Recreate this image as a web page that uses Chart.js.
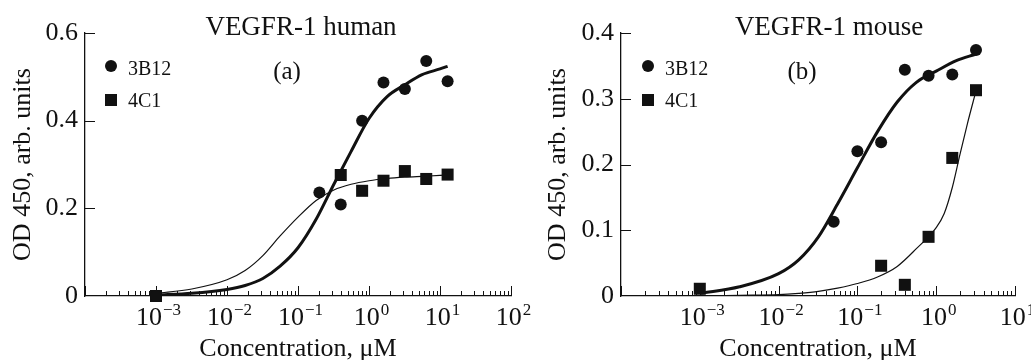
<!DOCTYPE html>
<html lang="en">
<head>
<meta charset="UTF-8">
<title>VEGFR-1 binding, 3B12 and 4C1</title>
<script src="https://cdn.jsdelivr.net/npm/chart.js"></script>
<style>
  html, body { margin: 0; padding: 0; background: #fff; }
  .panel { position: absolute; top: 0; height: 360px; }
  #left { left: 0; width: 545px; }
  #right { left: 515px; width: 516px; }
</style>
</head>
<body>
<div class="panel" id="left"><canvas id="chartA" width="545" height="360"></canvas></div>
<div class="panel" id="right"><canvas id="chartB" width="516" height="360"></canvas></div>

<script>
// (a) VEGFR-1 human -- measured points
const humanConc3B12 = [0.001, 0.2, 0.4, 0.8, 1.6, 3.2, 6.4, 12.8];
const humanOD3B12 = [0, 0.236, 0.209, 0.40, 0.487, 0.472, 0.536, 0.49];
const humanConc4C1 = [0.001, 0.4, 0.8, 1.6, 3.2, 6.4, 12.8];
const humanOD4C1 = [0, 0.276, 0.24, 0.263, 0.285, 0.267, 0.277];
// (a) fitted curves
const humanFitConc = [0.001, 0.0032, 0.01, 0.018, 0.032, 0.056, 0.1, 0.18, 0.32, 0.56, 1, 1.8, 3.2, 5.6, 10, 12.8];
const humanFit3B12 = [0.002, 0.006, 0.015, 0.024, 0.04, 0.068, 0.11, 0.175, 0.255, 0.33, 0.405, 0.455, 0.482, 0.505, 0.518, 0.524];
const humanFit4C1 = [0.006, 0.016, 0.037, 0.058, 0.092, 0.137, 0.18, 0.218, 0.242, 0.255, 0.263, 0.268, 0.271, 0.273, 0.275, 0.276];

// (b) VEGFR-1 mouse -- measured points
const mouseConc3B12 = [0.05, 0.1, 0.2, 0.4, 0.8, 1.6, 3.2];
const mouseOD3B12 = [0.113, 0.22, 0.234, 0.344, 0.335, 0.337, 0.374];
const mouseConc4C1 = [0.001, 0.2, 0.4, 0.8, 1.6, 3.2];
const mouseOD4C1 = [0.011, 0.046, 0.017, 0.09, 0.21, 0.313];
// (b) fitted curves
const mouseFitConc3B12 = [0.001, 0.0032, 0.01, 0.018, 0.032, 0.056, 0.1, 0.18, 0.32, 0.56, 1, 1.8, 3.2];
const mouseFit3B12 = [0.004, 0.014, 0.034, 0.055, 0.09, 0.14, 0.195, 0.25, 0.295, 0.325, 0.342, 0.358, 0.368];
const mouseFitConc4C1 = [0.001, 0.0032, 0.01, 0.018, 0.032, 0.056, 0.1, 0.18, 0.32, 0.56, 1, 1.26, 1.6, 2, 2.5, 3.2];
const mouseFit4C1 = [0, 0.001, 0.002, 0.004, 0.007, 0.012, 0.019, 0.029, 0.045, 0.072, 0.104, 0.125, 0.165, 0.215, 0.263, 0.312];

const serif = "'Liberation Serif', 'Times New Roman', serif";
const ink = '#111';

function pts(xs, ys) {
  return xs.map((x, i) => ({ x: x, y: ys[i] }));
}

function pointSet(label, xs, ys, style) {
  return {
    label: label,
    data: pts(xs, ys),
    pointStyle: style,
    pointRadius: style === 'rect' ? 8.5 : 6,
    pointBackgroundColor: ink,
    pointBorderWidth: 0,
    showLine: false,
    clip: false
  };
}

function curveSet(label, xs, ys, width) {
  return {
    label: label,
    data: pts(xs, ys),
    showLine: true,
    pointRadius: 0,
    borderColor: ink,
    borderWidth: width,
    cubicInterpolationMode: 'monotone',
    fill: false
  };
}

// ticks pointing inwards, 10^n labels, panel title, letter and legend
const decorPlugin = {
  id: 'decor',
  afterDraw(chart, args, o) {
    const { ctx, chartArea: area, scales: { x, y } } = chart;
    ctx.save();
    ctx.strokeStyle = ink;
    ctx.fillStyle = ink;
    ctx.lineWidth = 1;

    const eMin = Math.round(Math.log10(x.min));
    const eMax = Math.round(Math.log10(x.max));
    for (let e = eMin; e <= eMax; e++) {
      for (let m = 1; m <= 9; m++) {
        if (e === eMax && m > 1) break;
        const px = Math.round(x.getPixelForValue(m * Math.pow(10, e))) + 0.5;
        ctx.beginPath();
        ctx.moveTo(px, area.bottom);
        ctx.lineTo(px, area.bottom - (m === 1 ? 10 : 5));
        ctx.stroke();
      }
    }
    y.ticks.forEach(t => {
      if (t.value === 0) return;
      const py = Math.round(y.getPixelForValue(t.value)) + 0.5;
      ctx.beginPath();
      ctx.moveTo(area.left, py);
      ctx.lineTo(area.left + 10, py);
      ctx.stroke();
    });

    // decade labels
    ctx.textBaseline = 'alphabetic';
    ctx.textAlign = 'left';
    for (let e = eMin + 1; e <= eMax; e++) {
      const sup = e < 0 ? '\u2212' + (-e) : String(e);
      ctx.font = '26px ' + serif;
      const wBase = ctx.measureText('10').width;
      ctx.font = '17px ' + serif;
      const wSup = ctx.measureText(sup).width;
      const cx = x.getPixelForValue(Math.pow(10, e));
      const x0 = cx - (wBase + wSup) / 2 + 2;
      ctx.font = '26px ' + serif;
      ctx.fillText('10', x0, 325);
      ctx.font = '17px ' + serif;
      ctx.fillText(sup, x0 + wBase + 1, 315);
    }

    // title and panel letter
    ctx.textAlign = 'center';
    ctx.font = '27px ' + serif;
    ctx.fillText(o.title, o.titleX, 35);
    ctx.font = '25px ' + serif;
    ctx.fillText(o.letter, o.letterX, 79);

    // legend
    ctx.beginPath();
    ctx.arc(o.legendX, 66, 6, 0, Math.PI * 2);
    ctx.fill();
    ctx.fillRect(o.legendX - 6, 94, 12, 12);
    ctx.textAlign = 'left';
    ctx.font = '20px ' + serif;
    ctx.fillText(chart.data.datasets[0].label, o.legendX + 17, 75);
    ctx.fillText(chart.data.datasets[1].label, o.legendX + 17, 107);
    ctx.restore();
  }
};

function makeChart(id, c) {
  return new Chart(document.getElementById(id), {
    type: 'scatter',
    data: { datasets: c.datasets },
    options: {
      responsive: false,
      animation: false,
      events: [],
      layout: { padding: c.padding },
      plugins: {
        legend: { display: false },
        tooltip: { enabled: false },
        decor: c.decor
      },
      scales: {
        x: {
          type: 'logarithmic',
          min: c.xMin,
          max: c.xMax,
          grid: { display: false, drawTicks: false },
          border: { display: true, color: ink, width: 1.3 },
          ticks: { display: false },
          title: {
            display: true,
            text: 'Concentration, \u03bcM',
            color: ink,
            font: { family: serif, size: 26 },
            padding: { top: 0, bottom: -5 }
          },
          afterFit: s => { s.height = 64; }
        },
        y: {
          min: 0,
          max: c.yMax,
          grid: { display: false, drawTicks: false },
          border: { display: true, color: ink, width: 1.3 },
          ticks: {
            stepSize: c.yStep,
            padding: 7,
            color: ink,
            font: { family: serif, size: 26 },
            callback: v => v === 0 ? '0' : v.toFixed(1)
          },
          title: {
            display: true,
            text: 'OD 450, arb. units',
            color: ink,
            font: { family: serif, size: 26 },
            padding: { top: c.yTitlePad, bottom: 0 }
          },
          afterFit: s => { s.width = c.yWidth; }
        }
      }
    },
    plugins: [decorPlugin]
  });
}

makeChart('chartA', {
  datasets: [
    pointSet('3B12', humanConc3B12, humanOD3B12, 'circle'),
    pointSet('4C1', humanConc4C1, humanOD4C1, 'rect'),
    curveSet('3B12 fit', humanFitConc, humanFit3B12, 3),
    curveSet('4C1 fit', humanFitConc, humanFit4C1, 1.2)
  ],
  padding: { left: 0, right: 34, top: 33, bottom: 0 },
  xMin: 1e-4, xMax: 1e2,
  yMax: 0.6, yStep: 0.2,
  yWidth: 85, yTitlePad: 8,
  decor: { title: 'VEGFR-1 human', titleX: 301, letter: '(a)', letterX: 287, legendX: 111 }
});

makeChart('chartB', {
  datasets: [
    pointSet('3B12', mouseConc3B12, mouseOD3B12, 'circle'),
    pointSet('4C1', mouseConc4C1, mouseOD4C1, 'rect'),
    curveSet('3B12 fit', mouseFitConc3B12, mouseFit3B12, 3),
    curveSet('4C1 fit', mouseFitConc4C1, mouseFit4C1, 1.2)
  ],
  padding: { left: 0, right: 16, top: 33, bottom: 0 },
  xMin: 1e-4, xMax: 1e1,
  yMax: 0.4, yStep: 0.1,
  yWidth: 106, yTitlePad: 28,
  decor: { title: 'VEGFR-1 mouse', titleX: 314, letter: '(b)', letterX: 287, legendX: 133 }
});
</script>
</body>
</html>
